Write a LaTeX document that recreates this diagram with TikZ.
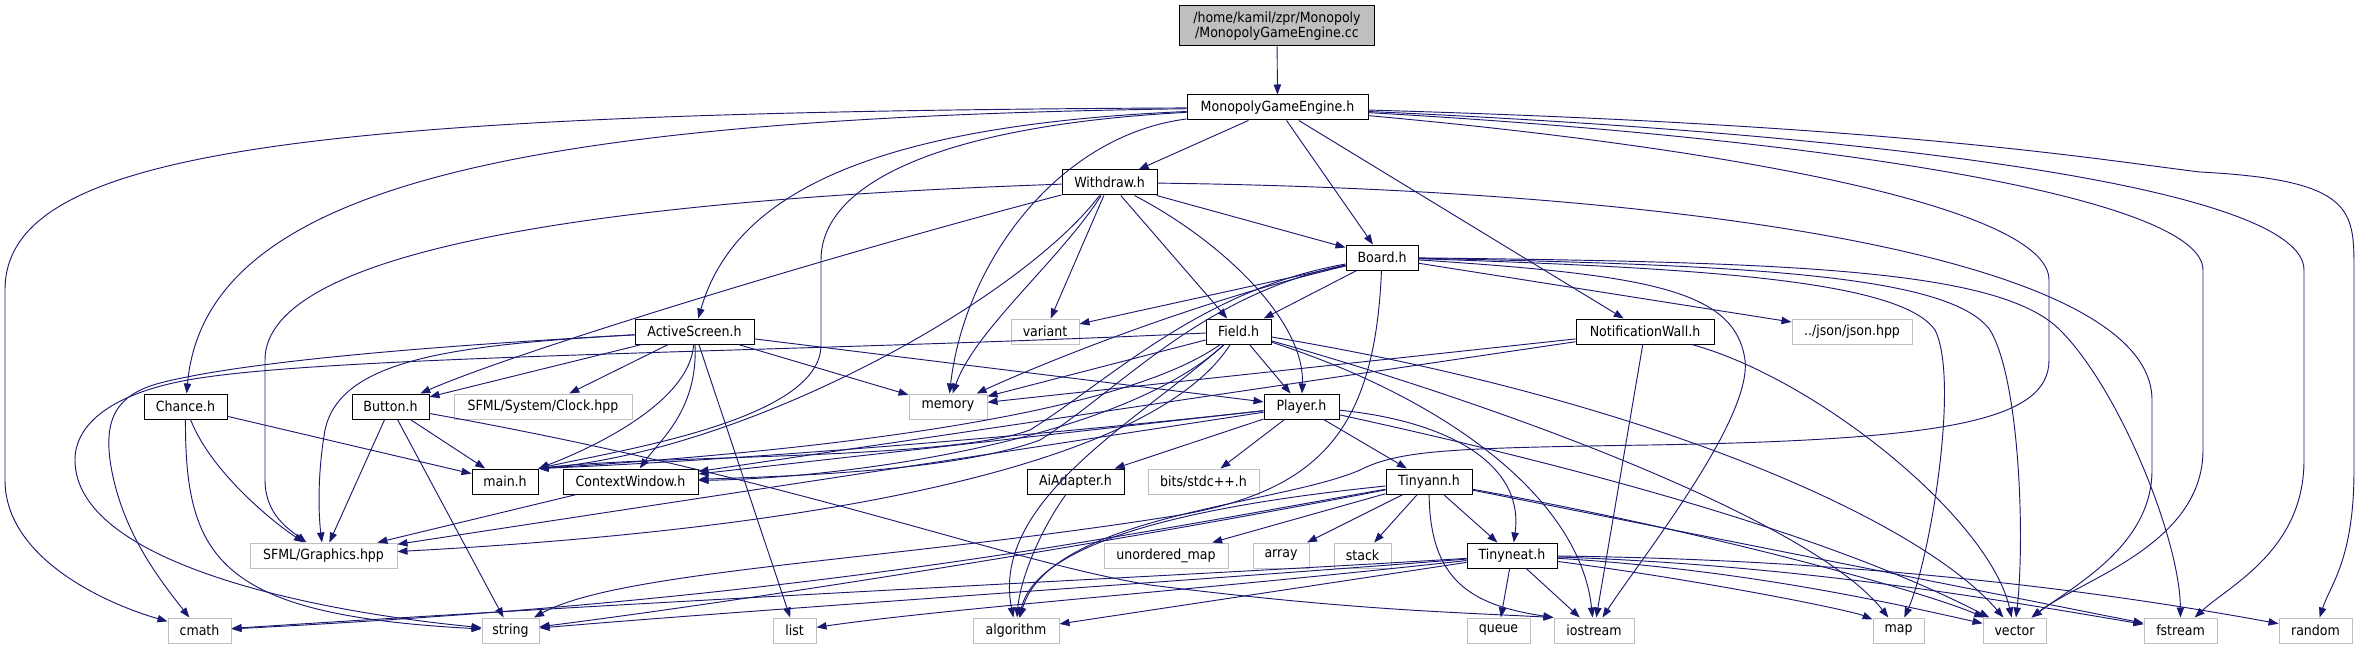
\documentclass[tikz,border=0pt]{standalone}
\usepackage{fontspec}
\setmainfont{DejaVu Sans Condensed}
\usetikzlibrary{arrows.meta}
\definecolor{edgeblue}{HTML}{191970}
\definecolor{sysgray}{HTML}{BFBFBF}

\begin{document}
\begin{tikzpicture}[x=0.75pt,y=-0.75pt,
  box/.style={draw=#1,fill=white,line width=0.75pt,inner sep=0pt,minimum height=18.75pt,font=\fontsize{10.5}{11.5}\selectfont},
  dep/.style={edgeblue,line width=0.7pt,-{Triangle[length=7.5pt,width=5.5pt]}},
]
  \useasboundingbox (0,0) rectangle (2360,649);

  % headers of the project
  \node[box=black,fill=sysgray,minimum width=146.25pt,minimum height=30pt,align=center] (root) at (1277,26) {/home/kamil/zpr/Monopoly\\/MonopolyGameEngine.cc};
  \node[box=black,minimum width=135.75pt] (mge) at (1277.5,107.5) {MonopolyGameEngine.h};
  \node[box=black,minimum width=71.25pt] (withdraw) at (1109.5,182.5) {Withdraw.h};
  \node[box=black,minimum width=54pt] (board) at (1382,257.5) {Board.h};
  \node[box=black,minimum width=48.75pt] (field) at (1238.5,331.5) {Field.h};
  \node[box=black,minimum width=89.25pt] (active) at (694.5,331.5) {ActiveScreen.h};
  \node[box=black,minimum width=103.5pt] (notif) at (1645,331.5) {NotificationWall.h};
  \node[box=black,minimum width=62.25pt] (chance) at (185.5,406.5) {Chance.h};
  \node[box=black,minimum width=57.75pt] (button) at (390.5,406.5) {Button.h};
  \node[box=black,minimum width=56.25pt] (player) at (1301.5,406.5) {Player.h};
  \node[box=black,minimum width=49.5pt] (main) at (505,481.5) {main.h};
  \node[box=black,minimum width=101.25pt] (ctx) at (630.5,481.5) {ContextWindow.h};
  \node[box=black,minimum width=72.75pt] (ai) at (1075.5,481.5) {AiAdapter.h};
  \node[box=black,minimum width=64.5pt] (tinyann) at (1429,481.5) {Tinyann.h};
  \node[box=black,minimum width=67.5pt] (tinyneat) at (1512,555.5) {Tinyneat.h};

  % system and library headers
  \node[box=sysgray,minimum width=51pt] (variant) at (1045,331.5) {variant};
  \node[box=sysgray,minimum width=90pt] (json) at (1852,331.5) {../json/json.hpp};
  \node[box=sysgray,minimum width=133.5pt] (clock) at (543,406.5) {SFML/System/Clock.hpp};
  \node[box=sysgray,minimum width=58.5pt] (memory) at (948,406.5) {memory};
  \node[box=sysgray,minimum width=83.25pt] (bits) at (1203.5,481.5) {bits/stdc++.h};
  \node[box=sysgray,minimum width=110.25pt] (sfml) at (323.5,555.5) {SFML/Graphics.hpp};
  \node[box=sysgray,minimum width=93pt] (umap) at (1166,555.5) {unordered\_map};
  \node[box=sysgray,minimum width=42pt] (array) at (1281,555.5) {array};
  \node[box=sysgray,minimum width=42.75pt] (stack) at (1362.5,555.5) {stack};
  \node[box=sysgray,minimum width=47.25pt] (cmath) at (199.5,630.5) {cmath};
  \node[box=sysgray,minimum width=42.75pt] (string) at (510.5,630.5) {string};
  \node[box=sysgray,minimum width=32.25pt] (list) at (794.5,630.5) {list};
  \node[box=sysgray,minimum width=64.5pt] (algorithm) at (1016,630.5) {algorithm};
  \node[box=sysgray,minimum width=47.25pt] (queue) at (1498.5,630.5) {queue};
  \node[box=sysgray,minimum width=60pt] (iostream) at (1594,630.5) {iostream};
  \node[box=sysgray,minimum width=38.25pt] (map) at (1898.5,630.5) {map};
  \node[box=sysgray,minimum width=47.25pt] (vector) at (2014.5,630.5) {vector};
  \node[box=sysgray,minimum width=54.75pt] (fstream) at (2180.5,630.5) {fstream};
  \node[box=sysgray,minimum width=54.75pt] (random) at (2315.5,630.5) {random};

  \draw[dep] (root) -- (mge);

  % MonopolyGameEngine.h
  \draw[dep] (mge) -- (withdraw);
  \draw[dep] (mge) -- (board);
  \draw[dep] (mge) -- (notif);
  \draw[dep] (mge) .. controls (880,125) and (735,190) .. (active);
  \draw[dep] (mge) .. controls (520,118) and (205,185) .. (chance);
  \draw[dep] (mge) .. controls (300,112) and (5,150) .. (5,290) -- (5,480) .. controls (5,560) and (110,605) .. (cmath);
  \draw[dep] (mge) .. controls (1060,135) and (965,260) .. (memory);
  \draw[dep] (mge) .. controls (950,125) and (821,180) .. (821,260) -- (821,345) .. controls (821,420) and (620,450) .. (main.north east);
  \draw[dep] (mge) .. controls (1750,150) and (2049,210) .. (2049,280) -- (2049,360) .. controls (2049,420) and (1950,440) .. (1650,445) .. controls (1450,448) and (1400,450) .. (1360,470) .. controls (1280,505) and (1050,515) .. (algorithm);
  \draw[dep] (mge) .. controls (1850,140) and (2203,200) .. (2203,270) -- (2203,450) .. controls (2203,545) and (2080,580) .. (vector);
  \draw[dep] (mge) .. controls (1900,135) and (2304,190) .. (2304,270) -- (2304,460) .. controls (2304,550) and (2230,585) .. (fstream);
  \draw[dep] (mge) .. controls (1900,125) and (2100,160) .. (2200,172) .. controls (2354,180) and (2354,210) .. (2354,270) -- (2354,470) .. controls (2354,560) and (2330,585) .. (random);

  % Withdraw.h
  \draw[dep] (withdraw) -- (board);
  \draw[dep] (withdraw) -- (field);
  \draw[dep] (withdraw) -- (variant);
  \draw[dep] (withdraw) .. controls (1220,240) and (1305,320) .. (player);
  \draw[dep] (withdraw) .. controls (1060,260) and (975,330) .. (memory);
  \draw[dep] (withdraw) .. controls (1020,300) and (750,450) .. (main.north east);
  \draw[dep] (withdraw) .. controls (850,250) and (520,350) .. (button);
  \draw[dep] (withdraw) .. controls (600,200) and (265,250) .. (265,360) -- (265,480) .. controls (265,515) and (290,530) .. (sfml);
  \draw[dep] (withdraw) .. controls (1700,190) and (2152,260) .. (2152,400) -- (2152,470) .. controls (2152,545) and (2075,585) .. (vector);

  % Board.h
  \draw[dep] (board) -- (field);
  \draw[dep] (board) -- (variant);
  \draw[dep] (board) .. controls (1200,300) and (1050,360) .. (memory);
  \draw[dep] (board) .. controls (1200,290) and (1110,380) .. (1030,430) .. controls (950,460) and (650,455) .. (main.north east);
  \draw[dep] (board) .. controls (1200,295) and (1120,390) .. (1040,440) .. controls (960,470) and (800,476) .. (ctx);
  \draw[dep] (board) -- (json);
  \draw[dep] (board) .. controls (1700,268) and (1900,280) .. (1935,330) .. controls (1960,380) and (1930,560) .. (map);
  \draw[dep] (board) .. controls (1750,265) and (1950,275) .. (1990,330) .. controls (2020,380) and (2025,540) .. (vector);
  \draw[dep] (board) .. controls (1800,262) and (2000,270) .. (2060,330) .. controls (2120,390) and (2180,540) .. (fstream);
  \draw[dep] (board) .. controls (1650,275) and (1735,290) .. (1745,360) .. controls (1752,420) and (1640,560) .. (iostream);
  \draw[dep] (board) .. controls (1375,430) and (1320,490) .. (1180,515) .. controls (900,560) and (620,570) .. (string);

  % Field.h
  \draw[dep] (field) -- (player);
  \draw[dep] (field) -- (memory);
  \draw[dep] (field) .. controls (1100,430) and (700,458) .. (main.north east);
  \draw[dep] (field) .. controls (1120,440) and (850,478) .. (ctx);
  \draw[dep] (field) .. controls (1140,420) and (990,500) .. (algorithm);
  \draw[dep] (field) .. controls (1150,470) and (800,530) .. (sfml);
  \draw[dep] (field) .. controls (800,352) and (350,355) .. (200,378) .. controls (120,390) and (75,420) .. (75,460) .. controls (75,560) and (300,610) .. (string);
  \draw[dep] (field) .. controls (1450,400) and (1580,500) .. (iostream);
  \draw[dep] (field) .. controls (1550,420) and (1820,530) .. (map);
  \draw[dep] (field) .. controls (1650,400) and (1920,520) .. (vector);

  % NotificationWall.h
  \draw[dep] (notif) -- (memory);
  \draw[dep] (notif) -- (ctx);
  \draw[dep] (notif) -- (iostream);
  \draw[dep] (notif) .. controls (1820,380) and (1990,520) .. (vector);

  % ActiveScreen.h
  \draw[dep] (active) -- (button);
  \draw[dep] (active) -- (clock);
  \draw[dep] (active) .. controls (690,400) and (600,445) .. (main.north east);
  \draw[dep] (active) .. controls (698,410) and (660,440) .. (ctx);
  \draw[dep] (active) -- (list);
  \draw[dep] (active) -- (memory);
  \draw[dep] (active) -- (player);
  \draw[dep] (active) .. controls (450,345) and (250,360) .. (160,383) .. controls (115,395) and (105,420) .. (110,460) .. controls (120,530) and (160,580) .. (cmath);
  \draw[dep] (active) .. controls (450,345) and (340,360) .. (325,430) .. controls (318,470) and (318,510) .. (sfml);

  % Chance.h and Button.h
  \draw[dep] (chance) -- (main);
  \draw[dep] (chance) .. controls (210,470) and (270,520) .. (sfml);
  \draw[dep] (chance) .. controls (185,560) and (220,615) .. (string);
  \draw[dep] (button) -- (main);
  \draw[dep] (button) -- (sfml);
  \draw[dep] (button) -- (string);
  \draw[dep] (button) .. controls (800,480) and (1000,560) .. (1150,585) .. controls (1350,610) and (1450,612) .. (iostream.north west);

  % Player.h
  \draw[dep] (player) -- (ai);
  \draw[dep] (player) -- (bits);
  \draw[dep] (player) -- (tinyann);
  \draw[dep] (player) .. controls (1440,420) and (1525,460) .. (tinyneat);
  \draw[dep] (player) .. controls (1000,440) and (700,462) .. (main.north east);
  \draw[dep] (player) -- (ctx);
  \draw[dep] (player) -- (sfml);
  \draw[dep] (player) .. controls (1500,450) and (1800,520) .. (vector);

  \draw[dep] (ctx) -- (sfml);
  \draw[dep] (ai) .. controls (1040,530) and (1020,580) .. (algorithm);

  % Tinyann.h
  \draw[dep] (tinyann) -- (tinyneat);
  \draw[dep] (tinyann) -- (umap);
  \draw[dep] (tinyann) -- (array);
  \draw[dep] (tinyann) -- (stack);
  \draw[dep] (tinyann) .. controls (1430,580) and (1470,605) .. (iostream.north west);
  \draw[dep] (tinyann) .. controls (1250,500) and (1040,530) .. (algorithm);
  \draw[dep] (tinyann) .. controls (1100,540) and (800,600) .. (cmath);
  \draw[dep] (tinyann) .. controls (1100,545) and (750,600) .. (string);
  \draw[dep] (tinyann) .. controls (1700,530) and (1920,590) .. (vector);
  \draw[dep] (tinyann) -- (fstream);

  % Tinyneat.h
  \draw[dep] (tinyneat) -- (queue);
  \draw[dep] (tinyneat) -- (iostream);
  \draw[dep] (tinyneat) .. controls (1700,580) and (1850,610) .. (map);
  \draw[dep] (tinyneat) .. controls (1750,570) and (1900,605) .. (vector);
  \draw[dep] (tinyneat) .. controls (1800,565) and (2000,600) .. (fstream);
  \draw[dep] (tinyneat) .. controls (1900,560) and (2150,600) .. (random);
  \draw[dep] (tinyneat) .. controls (1200,575) and (700,598) .. (cmath);
  \draw[dep] (tinyneat) .. controls (1200,580) and (750,610) .. (string);
  \draw[dep] (tinyneat) .. controls (1200,590) and (950,608) .. (list);
  \draw[dep] (tinyneat) -- (algorithm);
\end{tikzpicture}
\end{document}
